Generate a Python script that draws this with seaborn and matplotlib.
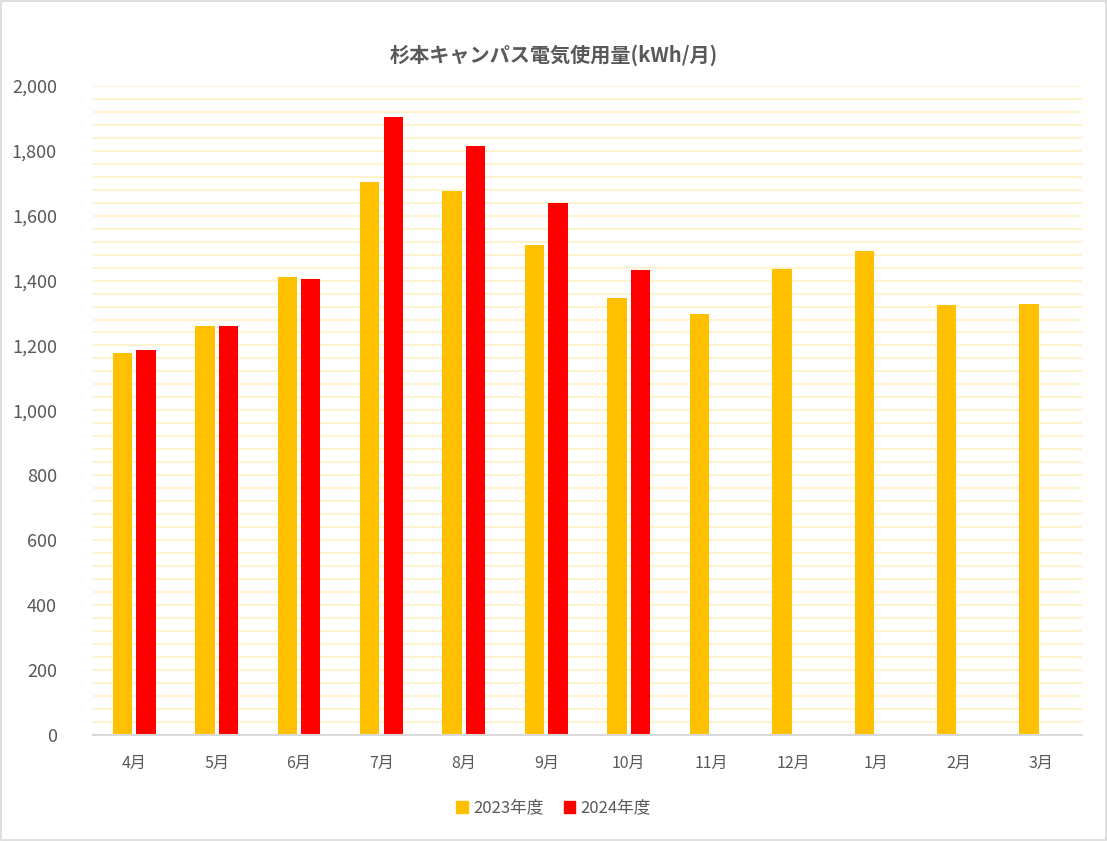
import matplotlib
matplotlib.use("Agg")
import matplotlib.pyplot as plt
import seaborn as sns
import pandas as pd
import numpy as np
from matplotlib.ticker import MultipleLocator, FuncFormatter
from matplotlib.patches import Rectangle

months = ["4月", "5月", "6月", "7月", "8月", "9月", "10月", "11月", "12月", "1月", "2月", "3月"]
fy2023 = [1176, 1259, 1410, 1703, 1675, 1509, 1346, 1296, 1435, 1490, 1324, 1327]
fy2024 = [1185, 1259, 1404, 1903, 1814, 1638, 1432, np.nan, np.nan, np.nan, np.nan, np.nan]
series = ["2023年度", "2024年度"]
colors = ["#FFC000", "#FF0000"]
title = "杉本キャンパス電気使用量(kWh/月)"

df = pd.DataFrame({
    "month": months * 2,
    "value": fy2023 + fy2024,
    "year": [series[0]] * len(months) + [series[1]] * len(months),
})

sns.set_theme(style="white")
plt.rcParams['font.family'] = ['Noto Sans CJK JP', 'DejaVu Sans']

fig = plt.figure(figsize=(11.07, 8.41), dpi=100)
ax = fig.add_axes([0.0840, 0.126, 0.8935, 0.772])

sns.barplot(data=df, x="month", y="value", hue="year", order=months,
            hue_order=series, palette=colors, width=0.57, gap=0.175,
            saturation=1, ax=ax, legend=False, errorbar=None, linewidth=0)

ax.set_ylim(0, 2000)
ax.set_xlim(-0.5, len(months) - 0.5)
ax.yaxis.set_major_locator(MultipleLocator(200))
ax.yaxis.set_minor_locator(MultipleLocator(40))
ax.yaxis.set_major_formatter(FuncFormatter(lambda v, p: f"{int(v):,}"))
ax.grid(axis="y", which="both", color="#FFF2CC", linewidth=1.3)
ax.set_axisbelow(True)
for s in ["top", "right", "left"]:
    ax.spines[s].set_visible(False)
ax.spines["bottom"].set_color("#D9D9D9")
ax.spines["bottom"].set_linewidth(1.5)
ax.tick_params(axis="y", which="both", length=0, labelsize=13, labelcolor="#595959", pad=26)
ax.tick_params(axis="x", length=0, labelsize=11.5, labelcolor="#595959", pad=14)
ax.set_xlabel("")
ax.set_ylabel("")

fig.text(0.5, 0.934, title, ha="center", va="center", fontsize=14.5,
         fontweight="bold", color="#595959")

handles = [Rectangle((0, 0), 1, 1, color=c) for c in colors]
fig.legend(handles, series, loc="center", bbox_to_anchor=(0.5, 0.039), ncol=2,
           frameon=False, fontsize=12, handlelength=0.7, handleheight=0.7,
           handletextpad=0.3, columnspacing=1.2, labelcolor="#595959")

fig.patches.append(Rectangle((0.001, 0.001), 0.998, 0.998, transform=fig.transFigure,
                             fill=False, edgecolor="#D9D9D9", linewidth=1.2))

fig.savefig("out.png", dpi=100, facecolor="white")
